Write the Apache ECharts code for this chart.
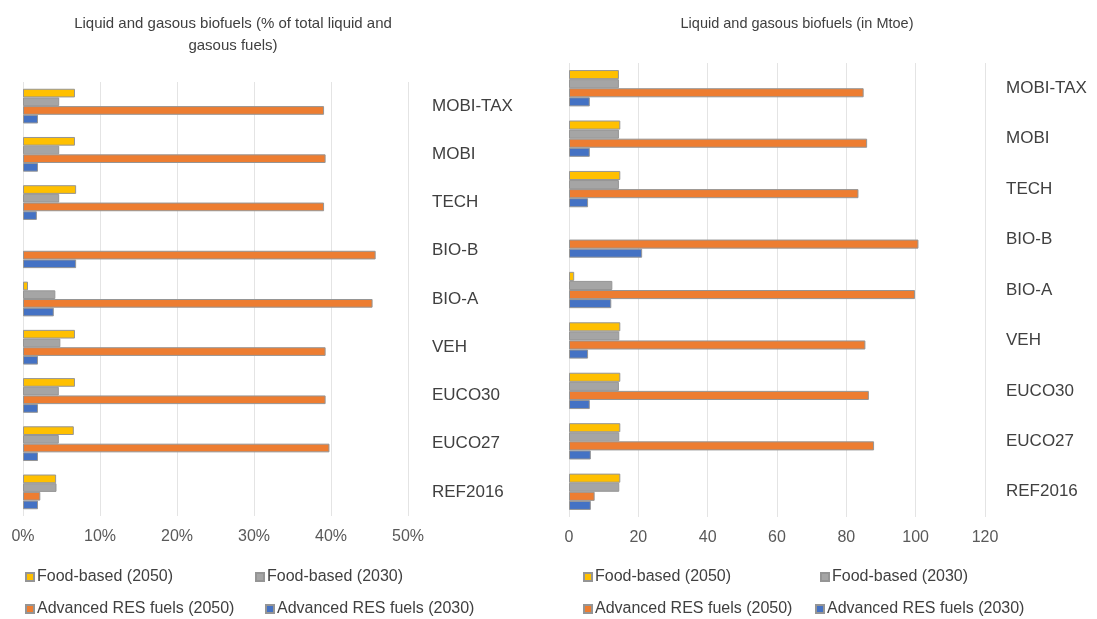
<!DOCTYPE html>
<html>
<head>
<meta charset="utf-8">
<script src="https://cdn.jsdelivr.net/npm/echarts@6/dist/echarts.min.js"></script>
<style>html,body{margin:0;padding:0;background:#fff}#c{width:1097px;height:619px}</style>
</head>
<body>
<div id="c"></div>
<script>
const categories = ['MOBI-TAX','MOBI','TECH','BIO-B','BIO-A','VEH','EUCO30','EUCO27','REF2016'];
const seriesNames = ['Food-based (2050)','Food-based (2030)','Advanced RES fuels (2050)','Advanced RES fuels (2030)'];
const colors = ['#FFC000','#A5A5A5','#ED7D31','#4472C4'];

// Left chart: % of total liquid and gasous fuels
const pctFood2050 = [6.75, 6.75, 6.9, 0, 0.65, 6.75, 6.75, 6.6, 4.3];
const pctFood2030 = [4.7, 4.7, 4.7, 0, 4.2, 4.85, 4.65, 4.65, 4.35];
const pctAdv2050  = [39.1, 39.3, 39.1, 45.8, 45.4, 39.3, 39.3, 39.8, 2.25];
const pctAdv2030  = [1.95, 1.95, 1.8, 6.9, 4.0, 1.95, 1.95, 1.95, 1.95];

// Right chart: Mtoe
const mtoeFood2050 = [14.4, 14.8, 14.8, 0, 1.5, 14.8, 14.8, 14.8, 14.8];
const mtoeFood2030 = [14.4, 14.4, 14.4, 0, 12.5, 14.5, 14.4, 14.5, 14.5];
const mtoeAdv2050  = [85.0, 86.0, 83.5, 100.8, 99.8, 85.5, 86.5, 88.0, 7.4];
const mtoeAdv2030  = [6.0, 6.0, 5.5, 21.1, 12.2, 5.5, 6.0, 6.3, 6.3];

const pctTicks = [0, 10, 20, 30, 40, 50];
const mtoeTicks = [0, 20, 40, 60, 80, 100, 120];

const FONT = '"Liberation Sans", Arial, sans-serif';

const leftData = [pctFood2050, pctFood2030, pctAdv2050, pctAdv2030];
const rightData = [mtoeFood2050, mtoeFood2030, mtoeAdv2050, mtoeAdv2030];

function mkSeries(dataArr, idx) {
  return dataArr.map((d, i) => ({
    name: seriesNames[i],
    type: 'bar',
    xAxisIndex: idx, yAxisIndex: idx,
    data: d.map(v => v === 0 ? '-' : v),
    barGap: '0%',
    barCategoryGap: '28%',
    itemStyle: { color: colors[i], borderColor: '#959595', borderWidth: 1 },
    emphasis: { disabled: true },
    animation: false
  }));
}

function legendItem(name, left, top) {
  return {
    data: [name], left: left, top: top, orient: 'horizontal',
    icon: 'rect', itemWidth: 8, itemHeight: 8, itemGap: 4,
    textStyle: { fontFamily: FONT, fontSize: 16, color: '#404040', padding: [0,0,0,-2] },
    selectedMode: false
  };
}

function xAx(idx, max, interval, fmt) {
  return {
    type: 'value', gridIndex: idx, min: 0, max: max, interval: interval,
    axisLine: { show: false }, axisTick: { show: false },
    splitLine: { show: true, lineStyle: { color: '#E4E4E4', width: 1 } },
    axisLabel: { formatter: fmt, fontFamily: FONT, fontSize: 16, color: '#595959', margin: 13 }
  };
}
function yAx(idx, margin) {
  return {
    type: 'category', gridIndex: idx, data: categories, inverse: true, position: 'right',
    axisLine: { show: false }, axisTick: { show: false },
    axisLabel: { fontFamily: FONT, fontSize: 17, color: '#404040', margin: margin, align: 'left' }
  };
}

const option = {
  backgroundColor: '#fff',
  animation: false,
  title: [
    { text: 'Liquid and gasous biofuels (% of total liquid and\ngasous fuels)', left: 228, top: 8, textAlign: 'center',
      textStyle: { fontFamily: FONT, fontSize: 15, fontWeight: 'normal', color: '#404040', lineHeight: 22, align: 'center' } },
    { text: 'Liquid and gasous biofuels (in Mtoe)', left: 792, top: 11, textAlign: 'center',
      textStyle: { fontFamily: FONT, fontSize: 14.5, fontWeight: 'normal', color: '#404040' } }
  ],
  legend: [
    legendItem(seriesNames[0], 20, 564),
    legendItem(seriesNames[1], 250, 564),
    legendItem(seriesNames[2], 20, 596),
    legendItem(seriesNames[3], 260, 596),
    legendItem(seriesNames[0], 578, 564),
    legendItem(seriesNames[1], 815, 564),
    legendItem(seriesNames[2], 578, 596),
    legendItem(seriesNames[3], 810, 596)
  ],
  grid: [
    { left: 23, top: 82, width: 385, height: 434 },
    { left: 569, top: 63, width: 416, height: 454 }
  ],
  xAxis: [
    xAx(0, pctTicks[pctTicks.length-1], pctTicks[1]-pctTicks[0], '{value}%'),
    xAx(1, mtoeTicks[mtoeTicks.length-1], mtoeTicks[1]-mtoeTicks[0], '{value}')
  ],
  yAxis: [ yAx(0, 24), yAx(1, 21) ],
  series: mkSeries(leftData, 0).concat(mkSeries(rightData, 1))
};

const chart = echarts.init(document.getElementById('c'), null, { renderer: 'canvas' });
chart.setOption(option);
</script>
</body>
</html>
